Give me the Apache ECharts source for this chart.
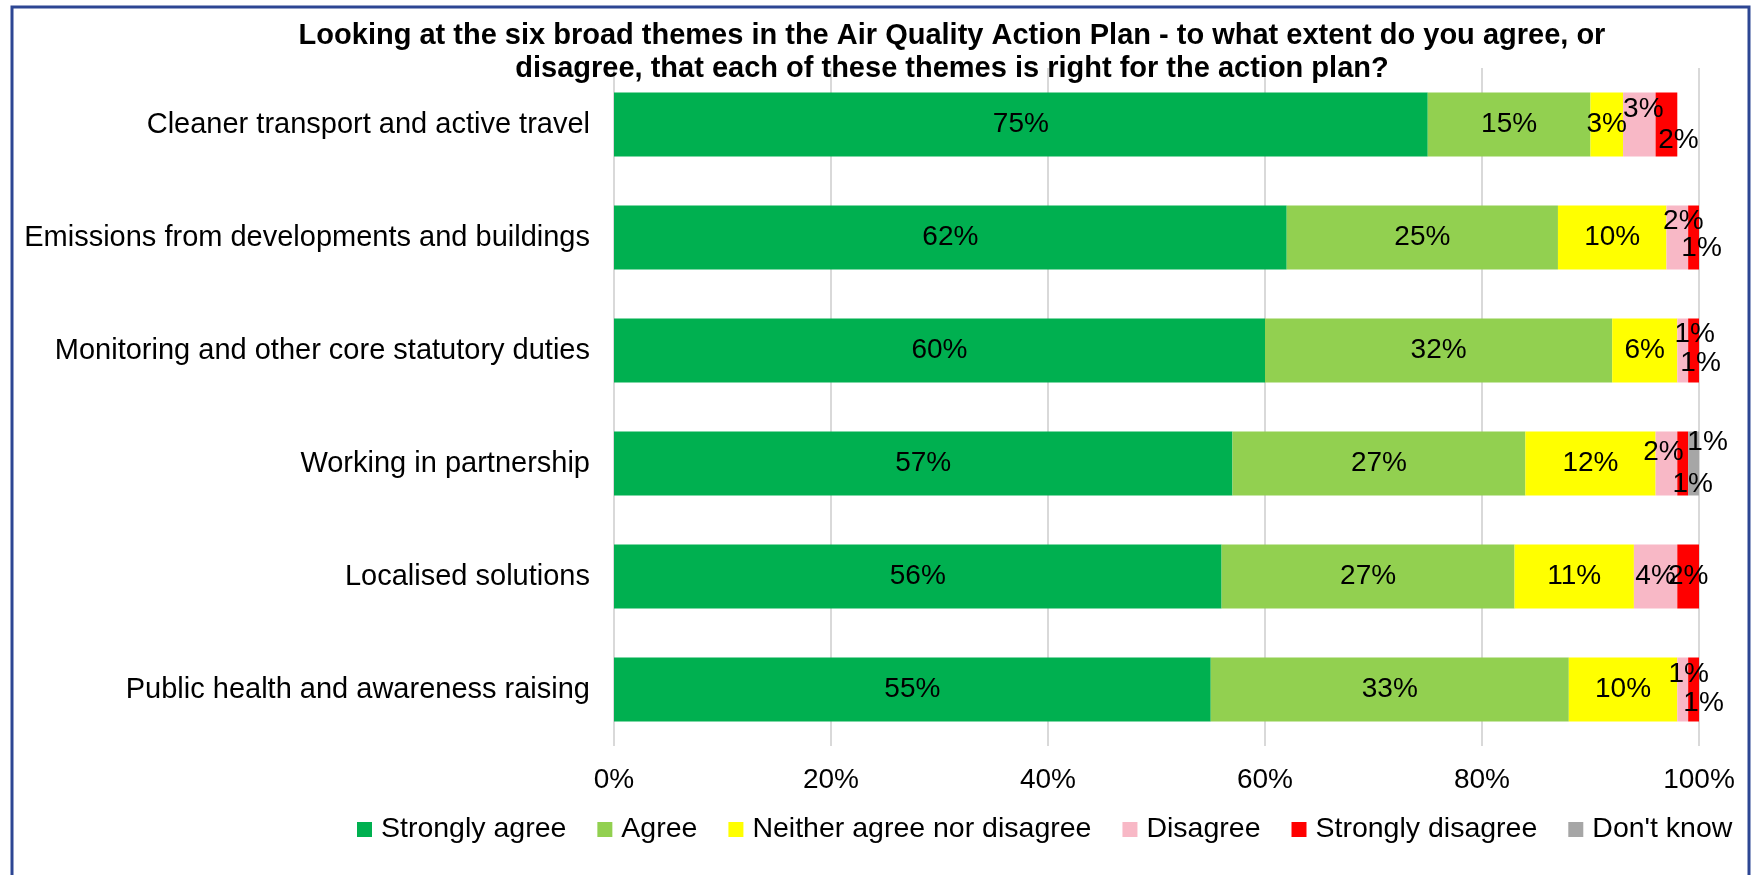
<!DOCTYPE html>
<html>
<head>
<meta charset="utf-8">
<title>Air Quality Action Plan themes</title>
<script src="https://cdn.jsdelivr.net/npm/echarts@6/dist/echarts.min.js"></script>
<style>
  html, body { margin: 0; padding: 0; background: #ffffff; }
  #chart { width: 1756px; height: 875px; }
</style>
</head>
<body>
<div id="chart"></div>
<script>
// Survey themes, top to bottom
const themes = [
  'Cleaner transport and active travel',
  'Emissions from developments and buildings',
  'Monitoring and other core statutory duties',
  'Working in partnership',
  'Localised solutions',
  'Public health and awareness raising'
];

// Response shares (%) for each theme
const stronglyAgree    = [75, 62, 60, 57, 56, 55];
const agree            = [15, 25, 32, 27, 27, 33];
const neither          = [3, 10, 6, 12, 11, 10];
const disagree         = [3, 2, 1, 2, 4, 1];
const stronglyDisagree = [2, 1, 1, 1, 2, 1];
const dontKnow         = [0, 0, 0, 1, 0, 0];

const responseNames = ['Strongly agree', 'Agree', 'Neither agree nor disagree',
  'Disagree', 'Strongly disagree', "Don't know"];
const responseValues = [stronglyAgree, agree, neither, disagree, stronglyDisagree, dontKnow];
const responseColors = ['#00B050', '#92D050', '#FFFF00', '#F8B8C6', '#FF0000', '#A6A6A6'];

// Axis tick values (%)
const xTicks = [0, 20, 40, 60, 80, 100];

// Nudges for the thin segments whose labels would otherwise collide
const labelNudges = {
  'Disagree': { 0: [4, -15], 1: [6, -16], 2: [12, -16], 3: [-3, -11], 5: [6, -15] },
  'Strongly disagree': { 0: [12, 16], 1: [8, 11], 2: [7, 13], 3: [10, 21], 5: [10, 14] },
  "Don't know": { 3: [14, -21] }
};

const FONT = '"Liberation Sans", Arial, sans-serif';

const series = responseNames.map((name, si) => ({
  name: name,
  type: 'bar',
  stack: 'total',
  barWidth: 64,
  itemStyle: { color: responseColors[si] },
  emphasis: { disabled: true },
  label: {
    show: true,
    position: 'inside',
    formatter: '{c}%',
    color: '#000000',
    fontFamily: FONT,
    fontSize: 28
  },
  data: responseValues[si].map((v, i) => {
    const item = { value: v };
    const nudge = labelNudges[name] && labelNudges[name][i];
    if (v === 0) item.label = { show: false };
    else if (nudge) item.label = { offset: nudge };
    return item;
  })
}));

const chart = echarts.init(document.getElementById('chart'), null, { renderer: 'canvas' });
chart.setOption({
  animation: false,
  backgroundColor: '#ffffff',
  title: {
    text: 'Looking at the six broad themes in the Air Quality Action Plan - to what extent do you agree, or\ndisagree, that each of these themes is right for the action plan?',
    left: 947,
    top: 14,
    textAlign: 'center',
    textStyle: {
      fontFamily: FONT,
      fontWeight: 'bold',
      fontSize: 29,
      lineHeight: 33,
      color: '#000000'
    }
  },
  legend: {
    data: responseNames,
    left: 352,
    top: 810,
    icon: 'rect',
    itemWidth: 15,
    itemHeight: 15,
    itemGap: 31,
    selectedMode: false,
    textStyle: {
      fontFamily: FONT,
      fontSize: 28.5,
      color: '#000000',
      padding: [0, 0, 0, 4]
    }
  },
  grid: {
    left: 614,
    right: 57,
    top: 68,
    bottom: 129,
    containLabel: false
  },
  xAxis: {
    type: 'value',
    min: xTicks[0],
    max: xTicks[xTicks.length - 1],
    interval: xTicks[1] - xTicks[0],
    axisLine: { show: false },
    axisTick: { show: false },
    splitLine: { show: true, lineStyle: { color: '#D9D9D9', width: 2 } },
    axisLabel: {
      formatter: '{value}%',
      fontFamily: FONT,
      fontSize: 28,
      color: '#000000',
      margin: 20
    }
  },
  yAxis: {
    type: 'category',
    data: themes,
    inverse: true,
    axisLine: { show: false },
    axisTick: { show: false },
    axisLabel: {
      fontFamily: FONT,
      fontSize: 29,
      color: '#000000',
      margin: 24
    }
  },
  graphic: [{
    type: 'rect',
    shape: { x: 12, y: 7, width: 1737, height: 900 },
    style: { fill: 'none', stroke: '#2D4693', lineWidth: 3 },
    silent: true,
    z: 100
  }],
  series: series
});
</script>
</body>
</html>
